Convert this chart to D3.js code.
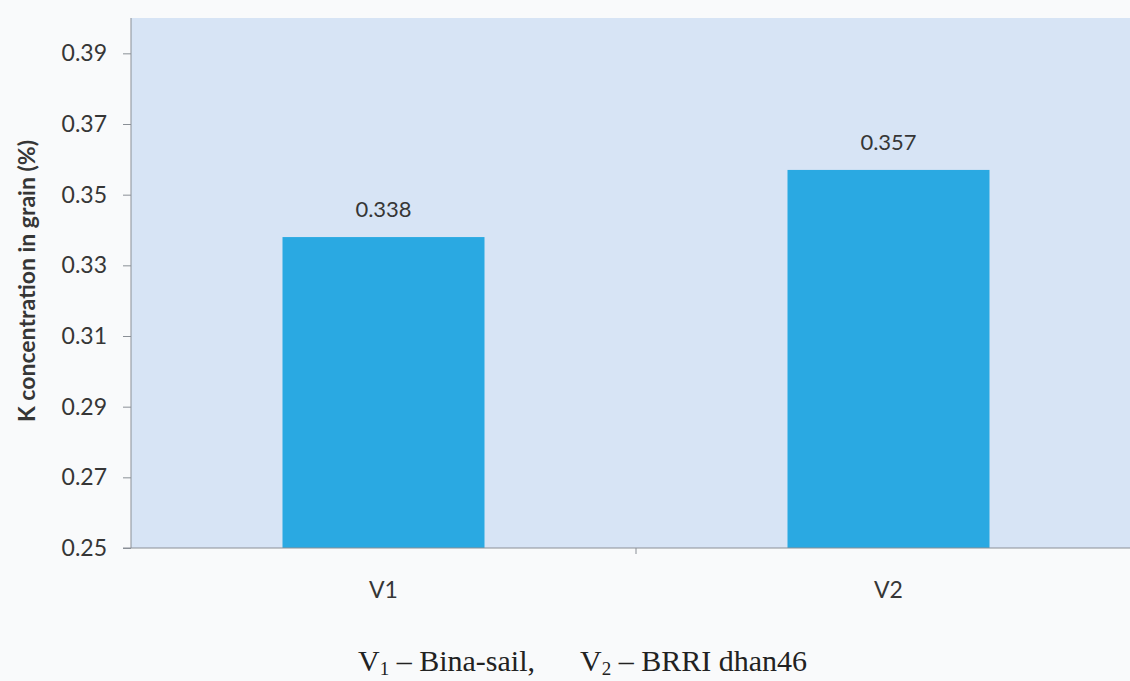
<!DOCTYPE html>
<html>
<head>
<meta charset="utf-8">
<script src="https://cdn.jsdelivr.net/npm/d3@7"></script>
<style>
  body { margin: 0; background: #f9fafb; }
  svg text { font-family: Lato, "Open Sans", sans-serif; fill: #363636; }
  svg text.caption { font-family: "Liberation Serif", "DejaVu Serif", serif; fill: #222; }
</style>
</head>
<body>
<div id="chart"></div>
<script>
// data
const categories = ['V1', 'V2'];
const values = [0.338, 0.357];
const yTicks = [0.25, 0.27, 0.29, 0.31, 0.33, 0.35, 0.37, 0.39];

const w = 1130;
const h = 681;
const plotLeft = 131, plotRight = 1141, plotTop = 18, plotBottom = 548;

const svg = d3.select('#chart')
  .append('svg')
  .attr('width', w)
  .attr('height', h);

const xScale = d3.scaleBand()
                 .domain(categories)
                 .range([plotLeft, plotRight])
                 .paddingInner(0.6)
                 .paddingOuter(0.3);
const yScale = d3.scaleLinear()
                 .domain([0.25, 0.40])
                 .range([plotBottom, plotTop]);

// plot area background
svg.append('rect')
   .attr('x', plotLeft)
   .attr('y', plotTop)
   .attr('width', plotRight - plotLeft)
   .attr('height', plotBottom - plotTop)
   .attr('fill', '#d7e4f5');

svg.selectAll('.bar')
   .data(values)
   .enter()
   .append('rect')
   .attr('class', 'bar')
   .attr('x', (d, i) => xScale(categories[i]))
   .attr('y', (d) => yScale(d))
   .attr('width', xScale.bandwidth())
   .attr('height', (d) => yScale(0.25) - yScale(d))
   .attr('fill', '#2aa9e2');

svg.selectAll('.val')
   .data(values)
   .enter()
   .append('text')
   .attr('class', 'val')
   .attr('x', (d, i) => xScale(categories[i]) + xScale.bandwidth() / 2)
   .attr('y', (d) => yScale(d) - 20)
   .attr('text-anchor', 'middle')
   .style('font-size', '22px')
   .text((d) => d.toFixed(3));

// y axis
const yAxis = d3.axisLeft(yScale)
                .tickValues(yTicks)
                .tickSize(8)
                .tickPadding(16)
                .tickFormat(d3.format('.2f'));
const gy = svg.append('g')
   .attr('transform', `translate(${plotLeft}, 0)`)
   .call(yAxis);
gy.select('.domain').attr('stroke', '#8a8f96').attr('d', `M0,${plotTop}V${plotBottom}`);
gy.selectAll('.tick line').attr('stroke', '#8a8f96');
gy.selectAll('.tick text').style('font-size', '23px');

// x axis
const gx = svg.append('g')
   .attr('transform', `translate(0, ${plotBottom})`);
gx.append('line')
  .attr('x1', plotLeft - 8).attr('x2', plotRight)
  .attr('stroke', '#8a8f96');
// separator tick between categories
const midTick = (xScale('V1') + xScale.bandwidth() + xScale('V2')) / 2;
gx.append('line')
  .attr('x1', midTick).attr('x2', midTick)
  .attr('y1', 0).attr('y2', 6)
  .attr('stroke', '#8a8f96');
gx.selectAll('.xl')
  .data(categories)
  .enter()
  .append('text')
  .attr('class', 'xl')
  .attr('x', (d) => xScale(d) + xScale.bandwidth() / 2)
  .attr('y', 50)
  .attr('text-anchor', 'middle')
  .style('font-size', '23px')
  .text((d) => d);

// y axis title
svg.append('text')
   .attr('transform', `translate(35, 281) rotate(-90)`)
   .attr('text-anchor', 'middle')
   .style('font-size', '23px')
   .style('font-weight', 'bold')
   .text('K concentration in grain (%)');

// caption under the chart
const cap = svg.append('text')
   .attr('class', 'caption')
   .attr('x', 358)
   .attr('y', 671)
   .style('font-size', '30px');
cap.append('tspan').text('V');
cap.append('tspan').attr('dy', 4).style('font-size', '19px').text('1');
cap.append('tspan').attr('dy', -4).text(' – Bina-sail,');
cap.append('tspan').attr('x', 580).text('V');
cap.append('tspan').attr('dy', 4).style('font-size', '19px').text('2');
cap.append('tspan').attr('dy', -4).text(' – BRRI dhan46');
</script>
</body>
</html>
